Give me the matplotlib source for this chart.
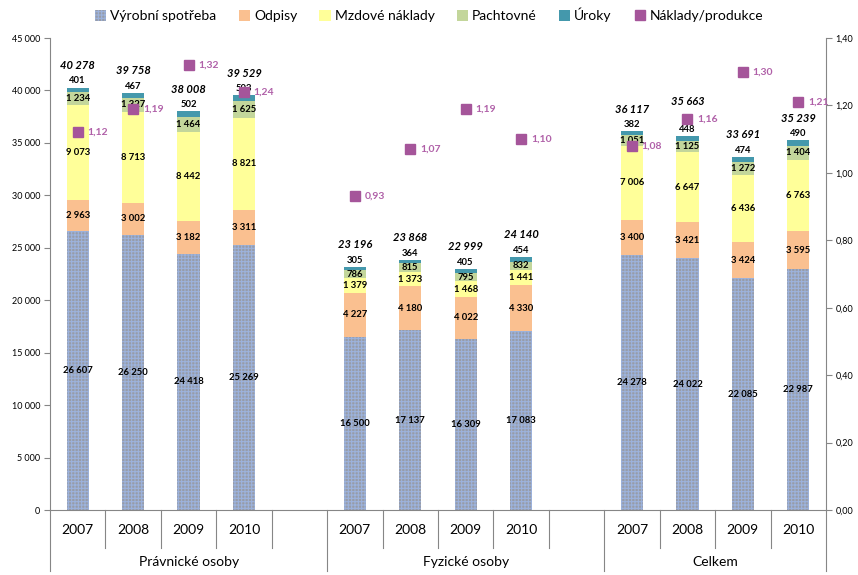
import numpy as np
import matplotlib.pyplot as plt
import matplotlib.transforms as mtransforms
from matplotlib.patches import Patch
from matplotlib.lines import Line2D

plt.rcParams['font.family'] = ['Lato', 'DejaVu Sans']
plt.rcParams['hatch.color'] = '#9CB2DC'
plt.rcParams['hatch.linewidth'] = 0.8

groups = ['Právnické osoby', 'Fyzické osoby', 'Celkem']
years = ['2007', '2008', '2009', '2010']

vyrobni = [26607, 26250, 24418, 25269, 16500, 17137, 16309, 17083, 24278, 24022, 22085, 22987]
odpisy = [2963, 3002, 3182, 3311, 4227, 4180, 4022, 4330, 3400, 3421, 3424, 3595]
mzdove = [9073, 8713, 8442, 8821, 1379, 1373, 1468, 1441, 7006, 6647, 6436, 6763]
pachtovne = [1234, 1327, 1464, 1625, 786, 815, 795, 832, 1051, 1125, 1272, 1404]
uroky = [401, 467, 502, 503, 305, 364, 405, 454, 382, 448, 474, 490]
totals = [40278, 39758, 38008, 39529, 23196, 23868, 22999, 24140, 36117, 35663, 33691, 35239]
ratio = [1.12, 1.19, 1.32, 1.24, 0.93, 1.07, 1.19, 1.10, 1.08, 1.16, 1.30, 1.21]

series = [
    ('Výrobní spotřeba', vyrobni, '#979CA8'),
    ('Odpisy', odpisy, '#FAC090'),
    ('Mzdové náklady', mzdove, '#FFFF99'),
    ('Pachtovné', pachtovne, '#C3D69B'),
    ('Úroky', uroky, '#4498AC'),
]
marker_color = '#A5559A'
label_purple = '#B060A8'

# slot positions: 4 years per group, one empty slot between groups
xpos = np.array([0, 1, 2, 3, 5, 6, 7, 8, 10, 11, 12, 13])

fig = plt.figure(figsize=(8.58, 5.75), dpi=100)
ax = fig.add_axes([50 / 858, 65 / 575, 776 / 858, 472 / 575])
ax2 = ax.twinx()

fmt = lambda v: f'{v:,}'.replace(',', ' ')

bottom = np.zeros(len(xpos))
for i, (name, vals, col) in enumerate(series):
    vals = np.array(vals)
    if i == 0:
        ax.bar(xpos, vals, 0.4, bottom=bottom, color=col, hatch='+++++', zorder=2)
    else:
        ax.bar(xpos, vals, 0.4, bottom=bottom, color=col, linewidth=0, zorder=2)
    for x, b, v in zip(xpos, bottom, vals):
        if name == 'Úroky':
            ax.annotate(fmt(v), (x, b + v), xytext=(0, 1.5), textcoords='offset points',
                        ha='center', va='bottom', fontsize=6.8, fontweight='bold', zorder=5)
        else:
            ax.text(x, b + v / 2, fmt(v), ha='center', va='center',
                    fontsize=6.8, fontweight='bold', zorder=5)
    bottom += vals

# the 2008 total in "Celkem" sits higher to clear the marker
lift = {9: 21}
for k, (x, top, t) in enumerate(zip(xpos, bottom, totals)):
    ax.annotate(fmt(t), (x, top), xytext=(0, lift.get(k, 12)), textcoords='offset points',
                ha='center', va='bottom', fontsize=8, fontweight='bold',
                fontstyle='italic', zorder=5)

ax2.plot(xpos, ratio, 's', color=marker_color, markersize=6.5, zorder=6)
for x, r in zip(xpos, ratio):
    ax2.annotate(f'{r:.2f}'.replace('.', ','), (x, r), xytext=(7, 0),
                 textcoords='offset points', ha='left', va='center',
                 fontsize=7.5, fontweight='bold', color=label_purple)

ax.set_xlim(-0.5, 13.5)
ax.set_ylim(0, 45000)
ax2.set_ylim(0, 1.40)
ax.set_yticks(np.arange(0, 45001, 5000))
ax.set_yticklabels([fmt(v) for v in range(0, 45001, 5000)], fontsize=6.5)
ax2.set_yticks(np.arange(0, 1.41, 0.2))
ax2.set_yticklabels([f'{v:.2f}'.replace('.', ',') for v in np.arange(0, 1.41, 0.2)], fontsize=6.5)
ax.set_xticks([])

for a in (ax, ax2):
    a.spines['top'].set_visible(False)
    for s in ('left', 'right', 'bottom'):
        a.spines[s].set_color('#868686')
    a.tick_params(axis='y', color='#868686', length=4, pad=3)
ax.spines['right'].set_visible(False)
ax2.spines['left'].set_visible(False)
ax2.spines['bottom'].set_visible(False)

# category axis: separators, year labels and group labels
trans = mtransforms.blended_transform_factory(ax.transData, ax.transAxes)
for b in np.arange(-0.5, 14, 1):
    long_line = b in (-0.5, 4.5, 9.5, 13.5)
    ax.plot([b, b], [0, -0.13 if long_line else -0.08], color='#868686',
            linewidth=0.8, transform=trans, clip_on=False)
for k, x in enumerate(xpos):
    ax.text(x, -0.042, years[k % 4], transform=trans, ha='center', va='center', fontsize=10)
for g, cx in zip(groups, [2, 7, 11.5]):
    ax.text(cx, -0.11, g, transform=trans, ha='center', va='center', fontsize=10)

handles = [Patch(facecolor=c, hatch='+++++' if i == 0 else None, label=n)
           for i, (n, v, c) in enumerate(series)]
handles.append(Line2D([], [], marker='s', linestyle='none', color=marker_color,
                      markersize=7, label='Náklady/produkce'))
fig.legend(handles=handles, loc='center', bbox_to_anchor=(0.5, 1 - 15 / 575),
           ncol=6, frameon=False, fontsize=10, handlelength=0.8, handleheight=0.8,
           handletextpad=0.3, columnspacing=1.6)

fig.savefig('out.png', dpi=100)
